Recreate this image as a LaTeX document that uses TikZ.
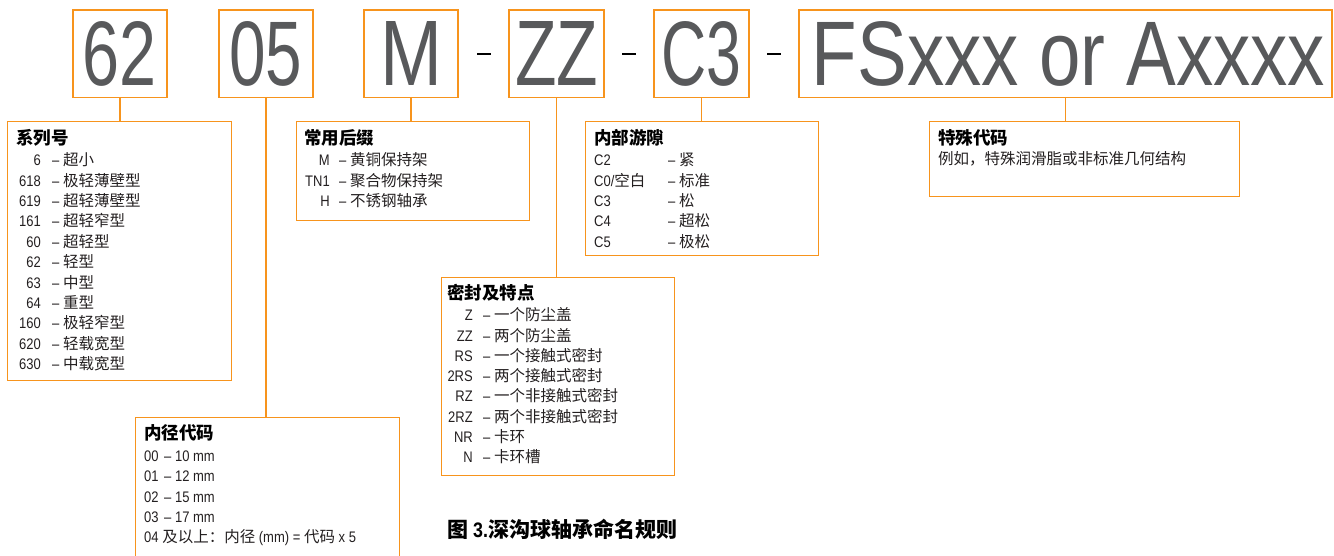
\documentclass[tikz,border=0pt]{standalone}
\usepackage{fontspec}
\usepackage{graphicx}
\setmainfont{Liberation Sans}[FakeStretch=0.85]
\newfontfamily\zhfont{Noto Sans CJK SC}
\newfontfamily\bigfont{Liberation Sans}
\newcommand\zh[1]{{\zhfont\fontsize{15.5}{18}\selectfont #1}}
\newcommand\bigt[2]{\resizebox{#1pt}{64pt}{\bigfont\fontsize{89}{89}\selectfont #2}}
\definecolor{orng}{HTML}{F7941D}
\definecolor{bigtxt}{HTML}{58595B}
\definecolor{txt}{HTML}{231F20}
\tikzset{
  topbox/.style={draw=orng, line width=1.4pt, inner sep=0pt, text=bigtxt, minimum height=87.5pt},
  infobox/.style={draw=orng, line width=1.4pt, inner sep=0pt, anchor=north west},
  conn/.style={draw=orng, line width=1.4pt},
  lbl/.style={inner sep=0pt, anchor=base east, text=txt, font=\fontsize{15.3}{18}\selectfont},
  lbll/.style={inner sep=0pt, anchor=base west, text=txt, font=\fontsize{15.3}{18}\selectfont},
  desc/.style={inner sep=0pt, anchor=base west, text=txt, font=\fontsize{15.3}{18}\selectfont},
  ttl/.style={inner sep=0pt, anchor=base west, text=black, font=\zhfont\bfseries\fontsize{17.5}{20}\selectfont},
  sep/.style={inner sep=0pt, fill=black, minimum width=14pt, minimum height=2pt},
}
\begin{document}
\begin{tikzpicture}[x=1pt,y=-1pt]
\useasboundingbox (0,0) rectangle (1334,555);
% top code boxes
\node[topbox, minimum width=94pt] (b62) at (120,53.75) {\bigt{74}{62}};
\node[topbox, minimum width=94pt] (b05) at (266,53.75) {\bigt{73}{05}};
\node[topbox, minimum width=94pt] (bM) at (411,53.75) {\bigt{62}{M}};
\node[topbox, minimum width=95pt] (bZZ) at (556.5,53.75) {\bigt{83}{ZZ}};
\node[topbox, minimum width=95pt] (bC3) at (701.5,53.75) {\bigt{80}{C3}};
\node[topbox, minimum width=533pt] (bFS) at (1065.5,53.75) {\hspace*{6pt}\bigt{513}{FSxxx or Axxxx}};
\node[sep] (d1) at (484,53.5) {};
\node[sep] (d2) at (629,53.5) {};
\node[sep] (d3) at (774,53.5) {};
% info boxes
\node[infobox, minimum width=224pt, minimum height=259pt] (s1) at (7,121) {};
\node[infobox, minimum width=233pt, minimum height=99pt] (s2) at (296,121) {};
\node[infobox, minimum width=233pt, minimum height=134pt] (s3) at (585,121) {};
\node[infobox, minimum width=310pt, minimum height=75pt] (s4) at (929,121) {};
\node[infobox, minimum width=233pt, minimum height=198pt] (s5) at (441,277) {};
\node[infobox, minimum width=264pt, minimum height=160pt] (s6) at (135,417) {};
% connectors
\draw[conn] (b62.south) -- (b62.south |- s1.north);
\draw[conn] (b05.south) -- (b05.south |- s6.north);
\draw[conn] (bM.south) -- (bM.south |- s2.north);
\draw[conn] (bZZ.south) -- (bZZ.south |- s5.north);
\draw[conn] (bC3.south) -- (bC3.south |- s3.north);
\draw[conn] (bFS.south) -- (bFS.south |- s4.north);
% series
\node[ttl] (s1t) at (16,144.6) {系列号};
\foreach \lab/\des [count=\i from 0] in {6/超小,618/极轻薄壁型,619/超轻薄壁型,161/超轻窄型,60/超轻型,62/轻型,63/中型,64/重型,160/极轻窄型,620/轻载宽型,630/中载宽型}{
  \node[lbl] (s1l\i) at (41,{165.7+20.4*\i}) {\lab};
  \node[desc] (s1d\i) at (52,{165.7+20.4*\i}) {– \zh{\des}};
}
% suffix
\node[ttl] (s2t) at (304,144.6) {常用后缀};
\foreach \lab/\des [count=\i from 0] in {M/黄铜保持架,TN1/聚合物保持架,H/不锈钢轴承}{
  \node[lbl] (s2l\i) at (330,{165.7+20.4*\i}) {\lab};
  \node[desc] (s2d\i) at (339,{165.7+20.4*\i}) {– \zh{\des}};
}
% clearance
\node[ttl] (s3t) at (594,144.6) {内部游隙};
\node[lbll] (s3l0) at (594,165.7) {C2};
\node[lbll] (s3l1) at (594,186.1) {C0/\zh{空白}};
\node[lbll] (s3l2) at (594,206.5) {C3};
\node[lbll] (s3l3) at (594,226.9) {C4};
\node[lbll] (s3l4) at (594,247.3) {C5};
\node[desc] (s3d0) at (668,165.7) {– \zh{紧}};
\node[desc] (s3d1) at (668,186.1) {– \zh{标准}};
\node[desc] (s3d2) at (668,206.5) {– \zh{松}};
\node[desc] (s3d3) at (668,226.9) {– \zh{超松}};
\node[desc] (s3d4) at (668,247.3) {– \zh{极松}};
% special
\node[ttl] (s4t) at (938,144.6) {特殊代码};
\node[desc] (s4d) at (938,164.2) {\zh{例如，特殊润滑脂或非标准几何结构}};
% seals
\node[ttl] (s5t) at (447,299.6) {密封及特点};
\foreach \lab/\des [count=\i from 0] in {Z/一个防尘盖,ZZ/两个防尘盖,RS/一个接触式密封,2RS/两个接触式密封,RZ/一个非接触式密封,2RZ/两个非接触式密封,NR/卡环,N/卡环槽}{
  \node[lbl] (s5l\i) at (473,{320.7+20.3*\i}) {\lab};
  \node[desc] (s5d\i) at (483,{320.7+20.3*\i}) {– \zh{\des}};
}
% bore
\node[ttl] (s6t) at (144,439.6) {内径代码};
\foreach \lab/\des [count=\i from 0] in {00/10,01/12,02/15,03/17}{
  \node[lbll] (s6l\i) at (144,{461.7+20.25*\i}) {\lab};
  \node[desc] (s6d\i) at (164,{461.7+20.25*\i}) {– \des{} mm};
}
\node[lbll] (s6l4) at (144,542.7) {04 \zh{及以上：内径} (mm) = \zh{代码} x 5};
% caption
\node[inner sep=0pt, anchor=base west, text=black, font=\bfseries\fontsize{21}{24}\selectfont] (cap) at (447,537.8) {{\zhfont 图} 3.{\zhfont 深沟球轴承命名规则}};
\end{tikzpicture}
\end{document}
